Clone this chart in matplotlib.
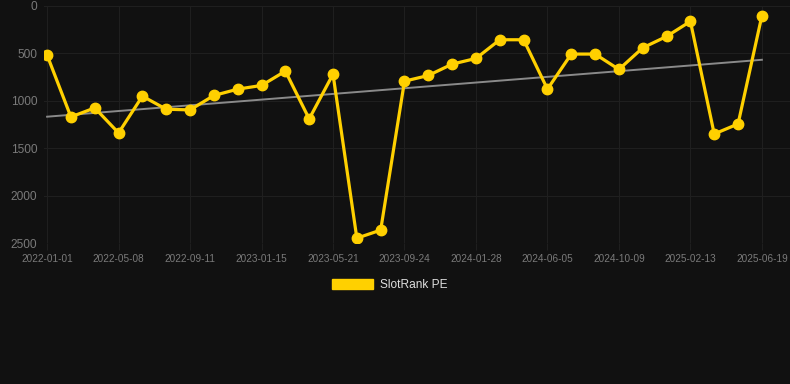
import matplotlib
matplotlib.use("Agg")
import matplotlib.pyplot as plt
import numpy as np
from matplotlib.patches import Patch

# Data
tick_labels = ["2022-01-01", "2022-05-08", "2022-09-11", "2023-01-15", "2023-05-21",
               "2023-09-24", "2024-01-28", "2024-06-05", "2024-10-09", "2025-02-13",
               "2025-06-19"]
pe_values = [518, 1170, 1075, 1339, 951, 1089, 1096, 944, 877, 838,
             687, 1191, 719, 2449, 2364, 793, 733, 613, 553, 356,
             356, 877, 507, 507, 669, 441, 321, 162, 1350, 1244, 103]

bg = "#111111"
gold = "#FFD000"
grid_c = "#1f1f1f"
tick_c = "#7a7a7a"

plt.rcParams["font.family"] = ["Liberation Sans", "DejaVu Sans"]

fig = plt.figure(figsize=(7.9, 3.84), dpi=100, facecolor=bg)
ax = fig.add_axes([44 / 790, 1 - 243 / 384, 746 / 790, 237 / 384], facecolor=bg)

x = np.arange(len(pe_values))
ax.plot(x, pe_values, color=gold, lw=2.3, marker="o", markersize=7.5, zorder=3)

# linear trend line
k, b = np.polyfit(x, pe_values, 1)
ax.plot(x, k * x + b, color="#8a8a8a", lw=1.4, zorder=2)

ax.set_ylim(2500, 0)
ax.set_xlim(-0.13, 31.18)
ax.set_yticks([0, 500, 1000, 1500, 2000, 2500])
ax.set_xticks(x[::3])
ax.set_xticklabels(tick_labels)

ax.grid(True, color=grid_c, lw=0.8)
for s in ax.spines.values():
    s.set_visible(False)
ax.tick_params(axis="x", colors=grid_c, labelcolor=tick_c, labelsize=7.2, length=5, width=0.8, pad=3)
ax.tick_params(axis="y", length=0, labelcolor=tick_c, labelsize=8.6, pad=5)

fig.legend(handles=[Patch(facecolor=gold, edgecolor=gold, label="SlotRank PE")],
           loc="center", bbox_to_anchor=(390 / 790, 1 - 285 / 384), frameon=False,
           handlelength=3.4, handleheight=1.0, handletextpad=0.6,
           fontsize=8.6, labelcolor="#dddddd")

fig.savefig("out.png", dpi=100, facecolor=bg)
